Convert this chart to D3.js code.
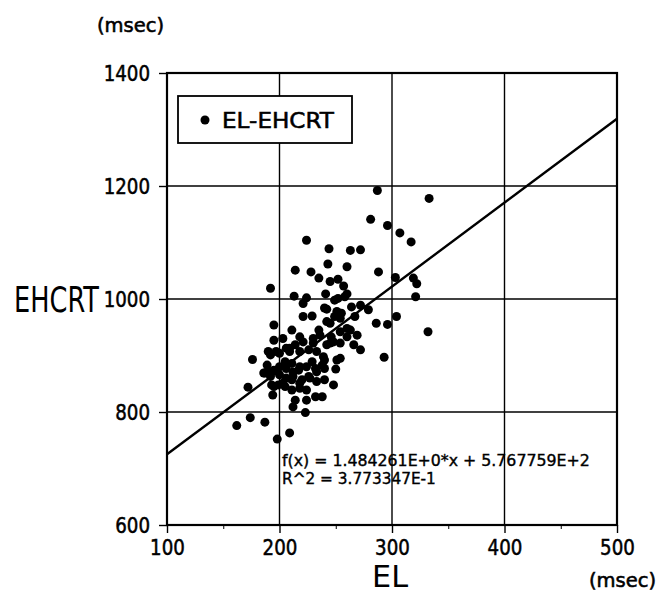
<!DOCTYPE html>
<html>
<head>
<meta charset="utf-8">
<script src="https://cdn.jsdelivr.net/npm/d3@7/dist/d3.min.js"></script>
<style>
  body { margin: 0; background: #fff; }
  svg { display: block; }
  .lbl { font-family: "DejaVu Sans", "Liberation Sans", sans-serif; fill: #000; }
  .heavy { stroke: #000; stroke-width: 0.55px; }
</style>
</head>
<body>
<svg id="chart" width="661" height="593"></svg>
<script>
// EL (msec) and EHCRT (msec) per subject
const elValues = [
  287, 333, 281, 296, 307, 317, 224, 244, 263, 272, 243, 260, 214, 228, 235, 288,
  245, 252, 257, 260, 241, 192, 213, 224, 221, 249, 303, 319, 322, 321, 304, 332,
  293, 286, 296, 272, 279, 264, 267, 221, 229, 242, 242, 235, 211, 249, 255, 263,
  269, 254, 260, 266, 272, 245, 254, 230, 218, 240, 195, 203, 195, 221, 242, 248,
  190, 192, 200, 209, 214, 218, 226, 233, 239, 251, 176, 189, 192, 200, 205, 211,
  217, 224, 229, 233, 240, 250, 186, 192, 200, 206, 212, 220, 226, 233, 240, 248,
  195, 199, 205, 211, 218, 224, 172, 194, 214, 224, 232, 238, 212, 223, 174, 162,
  187, 209, 198, 252, 258, 254, 245, 230, 236, 246, 254, 260, 197, 206, 240, 251,
  209, 187, 195, 206, 212, 218, 232, 238, 193, 203, 211, 218, 227
];
const ehcrtValues = [
  1192, 1178, 1141, 1130, 1117, 1101, 1104, 1089, 1086, 1087, 1062, 1057, 1051, 1048, 1037, 1048,
  1031, 1035, 1023, 1009, 1009, 1019, 1005, 1002, 992, 998, 1038, 1037, 1027, 1004, 969, 942,
  897, 957, 955, 989, 981, 986, 969, 969, 970, 982, 960, 945, 945, 969, 975, 945,
  936, 922, 933, 919, 910, 922, 895, 922, 933, 892, 954, 930, 927, 924, 919, 924,
  907, 901, 904, 913, 919, 907, 910, 907, 898, 892, 893, 883, 871, 880, 889, 886,
  874, 880, 889, 871, 877, 876, 869, 863, 866, 860, 863, 857, 863, 854, 857, 848,
  845, 848, 845, 839, 842, 839, 844, 830, 821, 821, 827, 827, 809, 799, 790, 776,
  782, 763, 752, 1001, 1004, 966, 957, 930, 936, 933, 942, 948, 907, 913, 984, 978,
  907, 869, 874, 877, 871, 880, 877, 883, 848, 851, 857, 851, 860
];
const xTicks = [100, 200, 300, 400, 500];
const yTicks = [600, 800, 1000, 1200, 1400];
const fitSlope = 1.484261;
const fitIntercept = 576.7759;
const fitText = ["f(x) = 1.484261E+0*x + 5.767759E+2", "R^2 = 3.773347E-1"];

const data = elValues.map((d, i) => ({ el: d, ehcrt: ehcrtValues[i] }));

const plotLeft = 167, plotTop = 73, plotW = 450, plotH = 452;
const svg = d3.select("#chart");

const x = d3.scaleLinear().domain([100, 500]).range([plotLeft, plotLeft + plotW]);
const y = d3.scaleLinear().domain([600, 1400]).range([plotTop + plotH, plotTop]);

// squeeze text horizontally to the narrow look of the original
function narrow(sel, perChar) {
  sel.each(function () {
    const t = d3.select(this);
    const sx = (this.textContent.length * perChar) / this.getComputedTextLength();
    const tx = +t.attr("x") || 0;
    const ty = +t.attr("y") || 0;
    t.attr("x", 0).attr("y", 0)
      .attr("transform", `translate(${tx},${ty}) scale(${sx},1)`);
  });
}

// grid lines
svg.append("g")
  .selectAll("line")
  .data(xTicks.slice(1, -1))
  .enter()
  .append("line")
  .attr("x1", (d) => x(d)).attr("x2", (d) => x(d))
  .attr("y1", plotTop).attr("y2", plotTop + plotH)
  .attr("stroke", "#000").attr("stroke-width", 1.4);

svg.append("g")
  .selectAll("line")
  .data(yTicks.slice(1, -1))
  .enter()
  .append("line")
  .attr("x1", plotLeft).attr("x2", plotLeft + plotW)
  .attr("y1", (d) => y(d)).attr("y2", (d) => y(d))
  .attr("stroke", "#000").attr("stroke-width", 1.4);

// axes
const xAxis = svg.append("g")
  .attr("transform", `translate(0, ${plotTop + plotH})`)
  .call(d3.axisBottom(x).tickValues(xTicks).tickSize(8).tickPadding(6).tickFormat(d3.format("d")));
svg.append("g")
  .attr("transform", `translate(0, ${plotTop + plotH})`)
  .call(d3.axisBottom(x).tickValues([150, 250, 350, 450]).tickSize(4).tickFormat(""))
  .select(".domain").remove();
const yAxis = svg.append("g")
  .attr("transform", `translate(${plotLeft}, 0)`)
  .call(d3.axisLeft(y).tickValues(yTicks).tickSize(8).tickPadding(9).tickFormat(d3.format("d")));

[xAxis, yAxis].forEach((g) => {
  g.select(".domain").remove();
  g.selectAll("line").attr("stroke-width", 1.4);
  g.selectAll("text")
    .attr("class", "lbl heavy")
    .style("font-size", "22px")
    .call(narrow, 11.6);
});

svg.selectAll(".tick line").attr("stroke", "#000");

// frame
svg.append("rect")
  .attr("x", plotLeft).attr("y", plotTop)
  .attr("width", plotW).attr("height", plotH)
  .attr("fill", "none").attr("stroke", "#000").attr("stroke-width", 2.2);

// regression line
svg.append("line")
  .attr("x1", x(100)).attr("y1", y(fitSlope * 100 + fitIntercept))
  .attr("x2", x(500)).attr("y2", y(fitSlope * 500 + fitIntercept))
  .attr("stroke", "#000").attr("stroke-width", 2.4);

// points
svg.append("g")
  .selectAll("circle")
  .data(data)
  .enter()
  .append("circle")
  .attr("cx", (d) => x(d.el))
  .attr("cy", (d) => y(d.ehcrt))
  .attr("r", 4.5)
  .attr("fill", "#000");

// legend
const legend = svg.append("g");
legend.append("rect")
  .attr("x", 178).attr("y", 96).attr("width", 174).attr("height", 47)
  .attr("fill", "#fff").attr("stroke", "#000").attr("stroke-width", 1.8);
legend.append("circle").attr("cx", 205).attr("cy", 120).attr("r", 4.5).attr("fill", "#000");
legend.append("text")
  .attr("class", "lbl heavy")
  .attr("x", 222).attr("y", 128)
  .style("font-size", "21px")
  .text("EL-EHCRT")
  .call(narrow, 14);

// fit equation
svg.append("g")
  .selectAll("text")
  .data(fitText)
  .enter()
  .append("text")
  .attr("class", "lbl heavy")
  .attr("x", 282)
  .attr("y", (d, i) => 466 + i * 18)
  .style("font-size", "16px")
  .style("stroke-width", "0.4px")
  .text((d) => d)
  .call(narrow, 9.06);

// axis titles and units
svg.append("text")
  .attr("class", "lbl")
  .attr("x", 390).attr("y", 587)
  .attr("text-anchor", "middle")
  .style("font-size", "31px")
  .text("EL")
  .call(narrow, 18);

svg.append("text")
  .attr("class", "lbl")
  .attr("x", 99).attr("y", 312)
  .attr("text-anchor", "end")
  .style("font-size", "36px")
  .text("EHCRT")
  .call(narrow, 17);

svg.append("text")
  .attr("class", "lbl heavy")
  .attr("x", 97).attr("y", 32)
  .style("font-size", "19px")
  .text("(msec)")
  .call(narrow, 11.2);

svg.append("text")
  .attr("class", "lbl heavy")
  .attr("x", 589).attr("y", 587)
  .style("font-size", "19px")
  .text("(msec)")
  .call(narrow, 11.2);
</script>
</body>
</html>
